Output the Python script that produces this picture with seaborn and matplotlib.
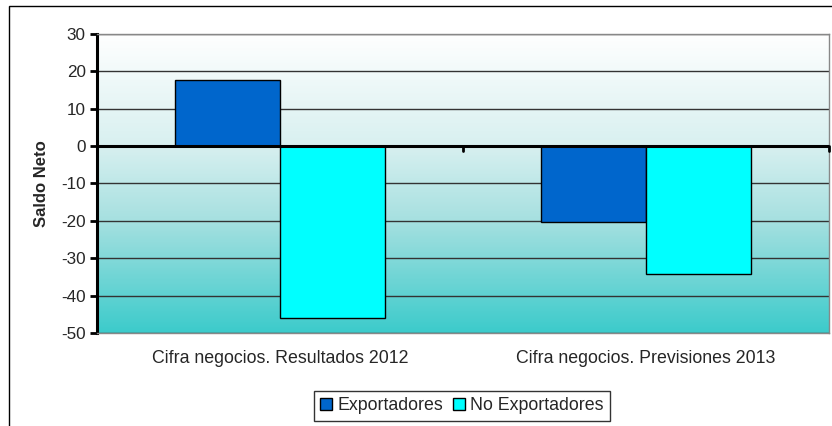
import numpy as np
import pandas as pd
import matplotlib
matplotlib.use("Agg")
import matplotlib.pyplot as plt
import seaborn as sns
from matplotlib.colors import LinearSegmentedColormap
from matplotlib.patches import Rectangle, Patch

categories = ["Cifra negocios. Resultados 2012", "Cifra negocios. Previsiones 2013"]
series = ["Exportadores", "No Exportadores"]
exportadores = [17.7, -20.2]
no_exportadores = [-46.0, -34.3]
colors = ["#0066CC", "#00FFFF"]
yticks = [-50, -40, -30, -20, -10, 0, 10, 20, 30]

df = pd.DataFrame({
    "cat": categories * 2,
    "serie": [series[0]] * 2 + [series[1]] * 2,
    "val": exportadores + no_exportadores,
})

sns.set_style("white")
plt.rcParams["font.family"] = ["Liberation Sans", "DejaVu Sans"]

fig = plt.figure(figsize=(8.32, 4.26), dpi=100)
W, H = 832, 426
# outer frame
fig.patches.append(Rectangle((9 / W, -0.1), 2.0, (426 - 6) / H + 0.1, transform=fig.transFigure,
                             fill=False, edgecolor="black", linewidth=1.0, zorder=0))

ax = fig.add_axes([97 / W, 1 - 333 / H, (829 - 97) / W, (333 - 34) / H])

# gradient background
cmap = LinearSegmentedColormap.from_list("bg", [
    (0.0, "#FFFFFF"), (0.375, "#D8F0F0"), (0.625, "#A6E0E0"), (1.0, "#3CCBCB")])
grad = np.linspace(0, 1, 256).reshape(-1, 1)
ax.imshow(grad, aspect="auto", cmap=cmap, extent=[0, 1, 0, 1], transform=ax.transAxes,
          zorder=0, origin="upper")

sns.barplot(data=df, x="cat", y="val", hue="serie", palette=colors, ax=ax,
            width=0.574, edgecolor="black", linewidth=1.0, saturation=1, zorder=3,
            legend=False)

ax.set_ylim(-50, 30)
ax.set_xlim(-0.5, 1.5)
ax.set_yticks(yticks)
ax.set_yticklabels([str(t) for t in yticks], fontsize=12.3)
for t in yticks:
    if t != 0:
        ax.axhline(t, color="#333333", linewidth=1.0, zorder=1)
ax.axhline(0, color="black", linewidth=2.2, zorder=4)
# category separator ticks on the zero line
for xs in [0.5, 1.5]:
    ax.plot([xs, xs], [0, -1.2], color="black", linewidth=2, zorder=4, clip_on=False)

ax.set_xticks([0, 1])
ax.set_xticklabels(categories, fontsize=12.8)
ax.tick_params(axis="x", length=0, pad=12)
ax.tick_params(axis="y", direction="out", length=5, width=2, color="black", pad=3, left=True)
ax.set_xlabel("")
ax.set_ylabel("Saldo Neto", fontsize=12, fontweight="bold", labelpad=9)

for s in ["top", "right", "bottom"]:
    ax.spines[s].set_color("#888888")
    ax.spines[s].set_linewidth(1.0)
ax.spines["left"].set_color("black")
ax.spines["left"].set_linewidth(2.2)

handles = [Patch(facecolor=c, edgecolor="black", linewidth=1.0) for c in colors]
leg = fig.legend(handles, series, loc="center", bbox_to_anchor=(462 / W, 1 - 406 / H),
                 ncol=2, fontsize=12.8, frameon=True, fancybox=False, edgecolor="black",
                 handlelength=0.65, handleheight=0.65, handletextpad=0.3, columnspacing=0.6,
                 borderpad=0.35, borderaxespad=0)
leg.get_frame().set_linewidth(1.0)

fig.savefig("out.png", dpi=100)
